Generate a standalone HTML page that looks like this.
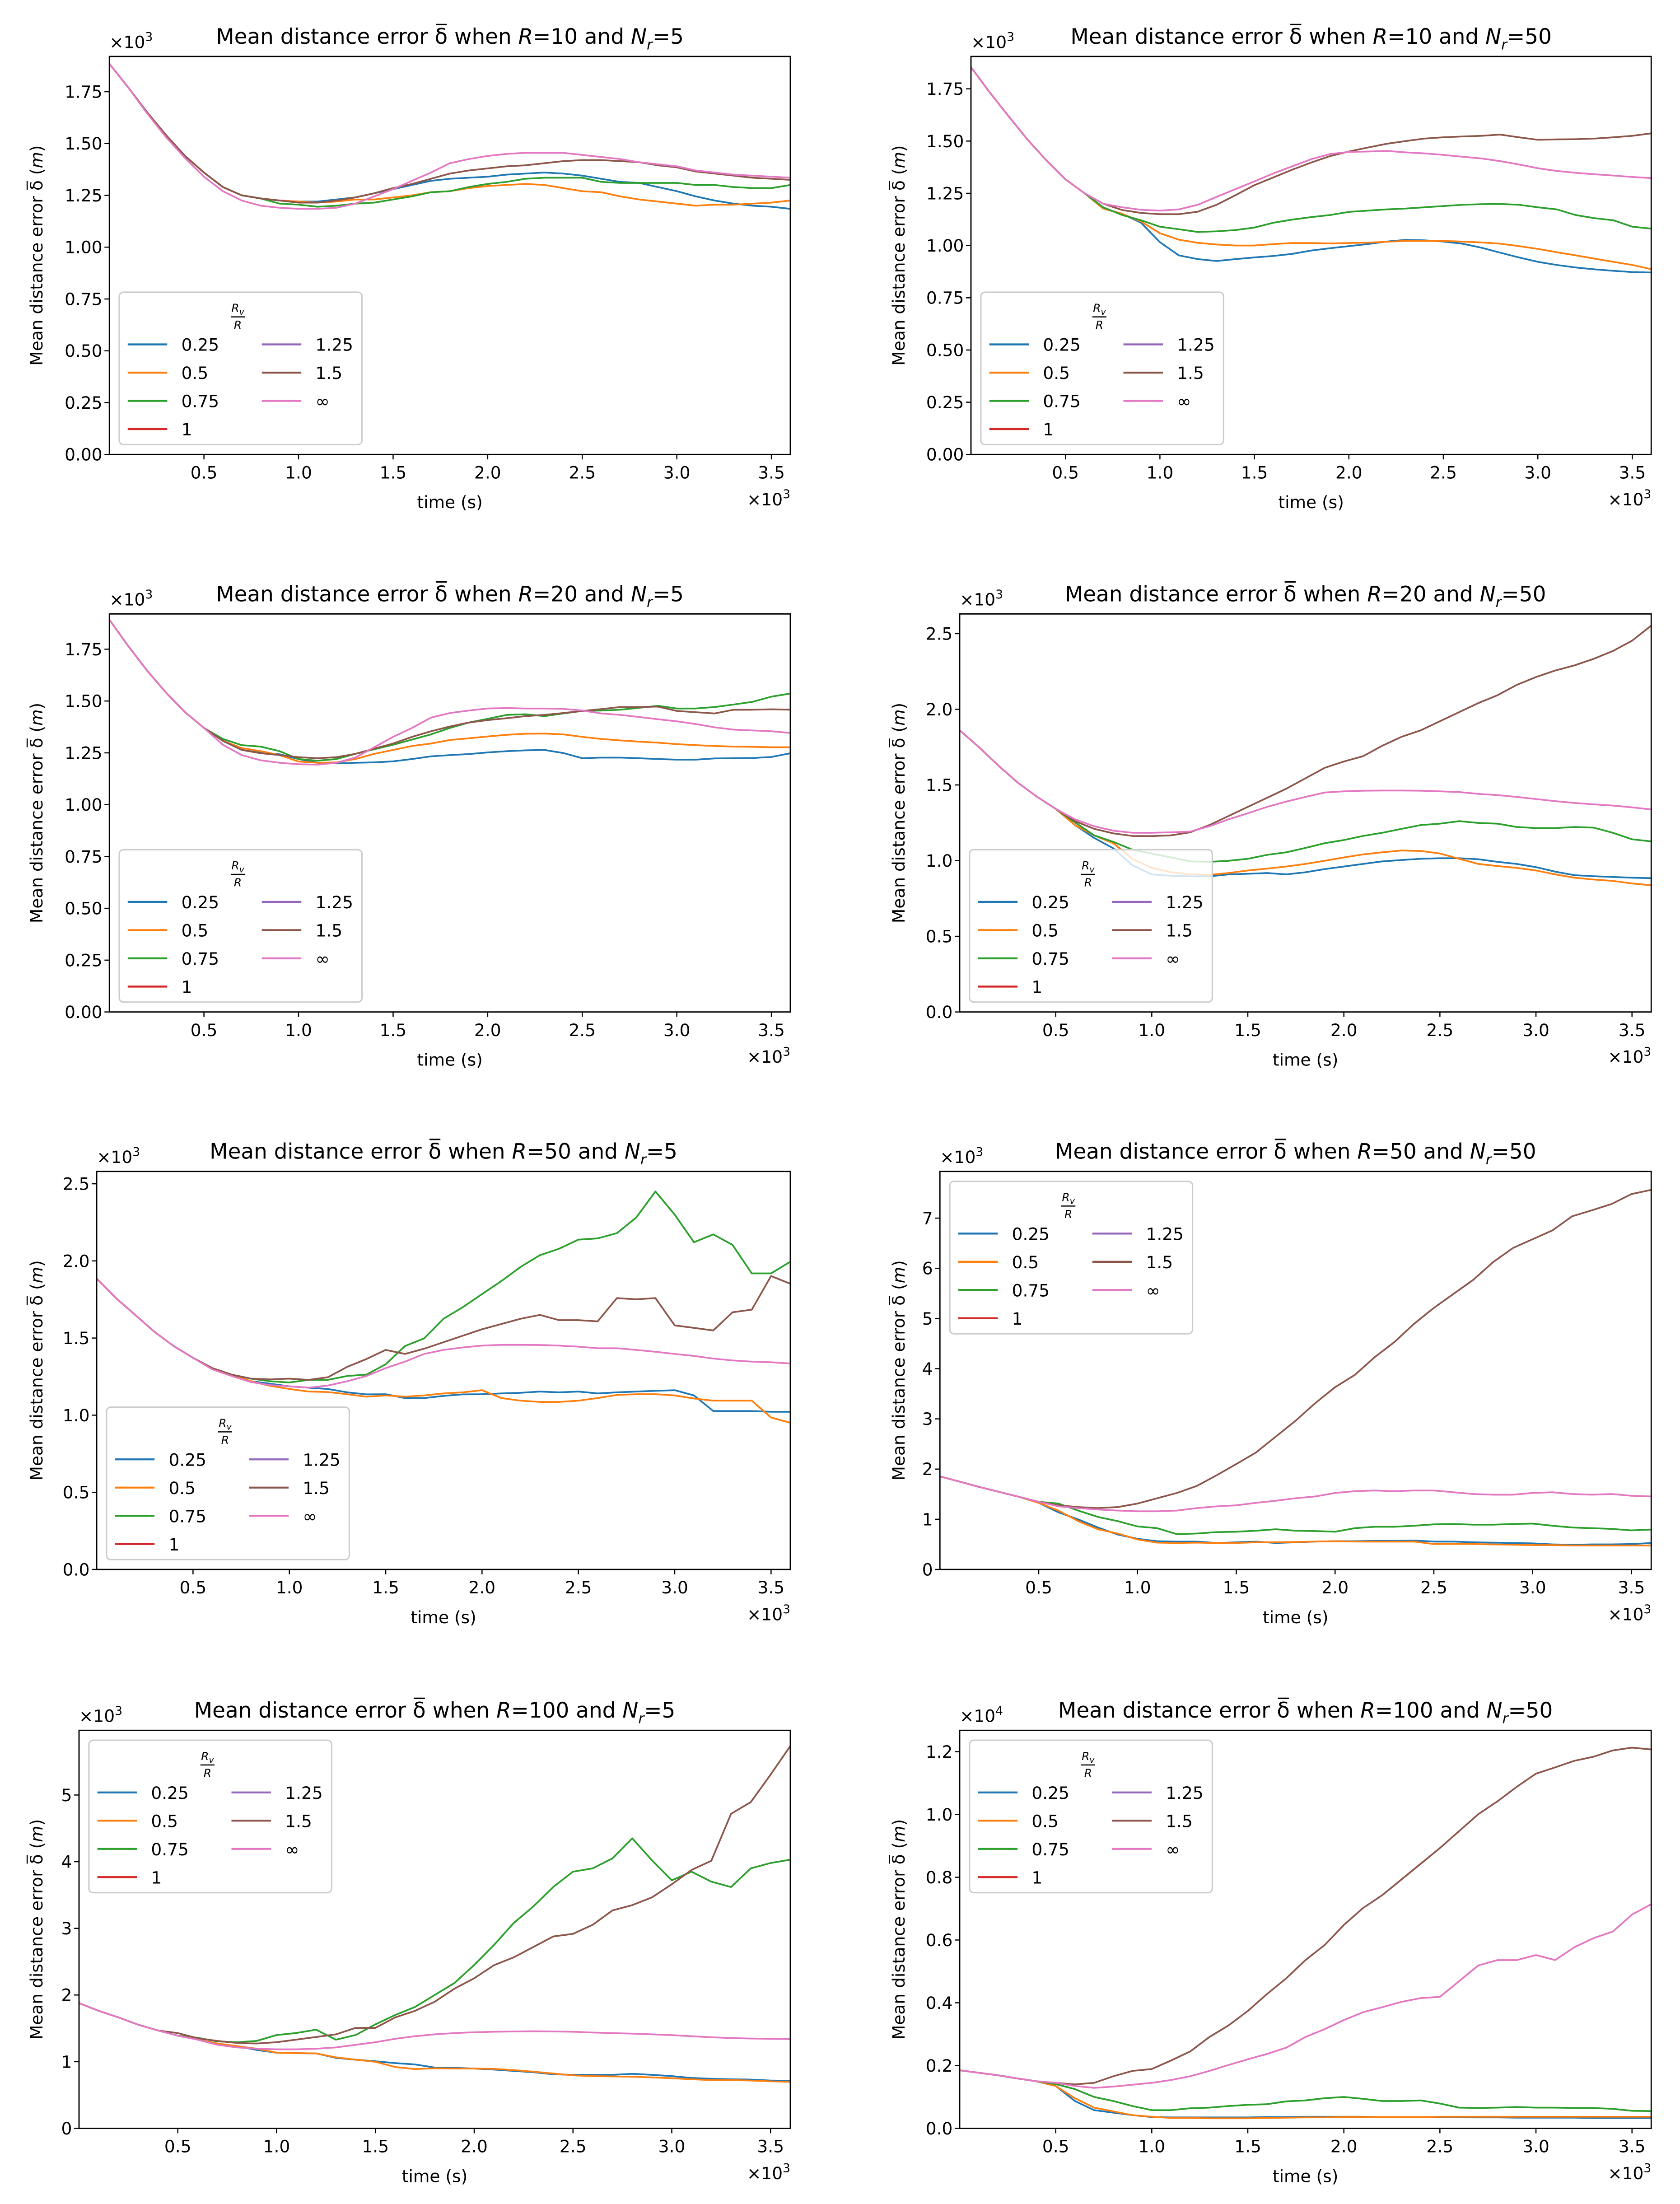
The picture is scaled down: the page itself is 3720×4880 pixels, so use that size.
<!DOCTYPE html>
<html><head><meta charset="utf-8"><title>Mean distance error plots</title>
<style>
html,body{margin:0;padding:0;background:#fff;}
svg{display:block;}
text{font-family:"DejaVu Sans","Liberation Sans",sans-serif;fill:#000;}
</style></head>
<body>
<svg id="fig" xmlns="http://www.w3.org/2000/svg" width="3720" height="4880" viewBox="0 0 1190.4 1561.6">
<rect x="0" y="0" width="1190.4" height="1561.6" fill="#fff"/>
</svg>
<script>
// shared x values (time, ×10^3 s)
const times = [0,0.1,0.2,0.3,0.4,0.5,0.6,0.7,0.8,0.9,1.0,1.1,1.2,1.3,1.4,1.5,1.6,1.7,1.8,1.9,2.0,2.1,2.2,2.3,2.4,2.5,2.6,2.7,2.8,2.9,3.0,3.1,3.2,3.3,3.4,3.5,3.6];
const xTickValues = [0.5,1.0,1.5,2.0,2.5,3.0,3.5];
const xTickLabels = ["0.5","1.0","1.5","2.0","2.5","3.0","3.5"];
const legendLabels = ["0.25","0.5","0.75","1","1.25","1.5","\u221e"];

// R=10, Nr=5
const p1_025 = [1.885,1.77,1.65,1.54,1.44,1.36,1.29,1.25,1.235,1.225,1.22,1.22,1.23,1.24,1.26,1.28,1.30,1.32,1.33,1.335,1.34,1.35,1.355,1.36,1.355,1.345,1.33,1.315,1.31,1.29,1.27,1.245,1.225,1.21,1.20,1.195,1.185];
const p1_050 = [1.885,1.77,1.65,1.54,1.44,1.36,1.29,1.25,1.235,1.225,1.22,1.215,1.22,1.23,1.23,1.24,1.25,1.265,1.27,1.285,1.295,1.30,1.305,1.30,1.285,1.27,1.265,1.245,1.23,1.22,1.21,1.20,1.205,1.205,1.21,1.215,1.225];
const p1_075 = [1.885,1.77,1.65,1.54,1.44,1.36,1.29,1.25,1.235,1.21,1.205,1.195,1.20,1.21,1.215,1.23,1.245,1.265,1.27,1.29,1.305,1.315,1.33,1.335,1.335,1.335,1.315,1.31,1.31,1.31,1.31,1.30,1.30,1.29,1.285,1.285,1.30];
const p1_150 = [1.885,1.77,1.65,1.54,1.44,1.36,1.29,1.25,1.235,1.225,1.215,1.215,1.225,1.24,1.26,1.285,1.305,1.33,1.355,1.37,1.38,1.39,1.395,1.405,1.415,1.42,1.42,1.415,1.41,1.395,1.385,1.365,1.355,1.345,1.335,1.33,1.325];
const p1_inf = [1.885,1.77,1.645,1.53,1.43,1.34,1.27,1.225,1.20,1.19,1.185,1.185,1.19,1.21,1.245,1.28,1.32,1.36,1.405,1.425,1.44,1.45,1.455,1.455,1.455,1.445,1.435,1.425,1.41,1.40,1.39,1.37,1.36,1.35,1.345,1.34,1.335];

// R=10, Nr=50
const p2_025 = [1.854,1.732,1.618,1.506,1.407,1.317,1.251,1.177,1.152,1.109,1.016,0.953,0.935,0.926,0.935,0.943,0.95,0.96,0.976,0.987,0.997,1.007,1.019,1.027,1.025,1.019,1.009,0.99,0.966,0.943,0.922,0.907,0.895,0.886,0.879,0.873,0.871];
const p2_050 = [1.854,1.732,1.618,1.506,1.407,1.317,1.251,1.177,1.152,1.115,1.059,1.028,1.013,1.005,1.0,1.0,1.007,1.012,1.012,1.01,1.012,1.014,1.018,1.022,1.022,1.022,1.019,1.015,1.009,0.997,0.984,0.968,0.953,0.937,0.922,0.907,0.887];
const p2_075 = [1.854,1.732,1.618,1.506,1.407,1.317,1.251,1.183,1.146,1.121,1.09,1.078,1.065,1.068,1.074,1.086,1.109,1.124,1.136,1.146,1.161,1.167,1.173,1.177,1.183,1.189,1.195,1.198,1.199,1.195,1.183,1.173,1.146,1.131,1.121,1.09,1.081];
const p2_150 = [1.854,1.732,1.618,1.506,1.407,1.317,1.251,1.20,1.17,1.156,1.15,1.15,1.162,1.195,1.241,1.289,1.326,1.363,1.397,1.428,1.45,1.469,1.487,1.50,1.512,1.518,1.522,1.525,1.531,1.518,1.506,1.508,1.509,1.512,1.518,1.525,1.537];
const p2_inf = [1.854,1.732,1.618,1.506,1.407,1.317,1.251,1.20,1.183,1.171,1.167,1.173,1.195,1.233,1.27,1.307,1.345,1.379,1.413,1.438,1.448,1.45,1.453,1.446,1.441,1.434,1.425,1.417,1.404,1.388,1.37,1.357,1.348,1.341,1.335,1.328,1.323];

// R=20, Nr=5
const p3_025 = [1.892,1.765,1.646,1.54,1.446,1.37,1.308,1.264,1.25,1.243,1.22,1.202,1.199,1.202,1.204,1.209,1.22,1.233,1.239,1.244,1.252,1.258,1.262,1.264,1.249,1.224,1.227,1.227,1.224,1.22,1.217,1.217,1.223,1.224,1.225,1.23,1.248];
const p3_050 = [1.892,1.765,1.646,1.54,1.446,1.37,1.308,1.273,1.258,1.239,1.208,1.202,1.204,1.22,1.245,1.264,1.283,1.295,1.312,1.32,1.329,1.337,1.342,1.343,1.339,1.327,1.317,1.31,1.304,1.299,1.292,1.287,1.283,1.28,1.279,1.277,1.277];
const p3_075 = [1.892,1.765,1.646,1.54,1.446,1.37,1.317,1.287,1.28,1.258,1.22,1.212,1.22,1.245,1.267,1.289,1.314,1.339,1.37,1.396,1.414,1.433,1.436,1.427,1.44,1.452,1.454,1.458,1.467,1.477,1.464,1.464,1.471,1.483,1.496,1.521,1.536];
const p3_150 = [1.892,1.765,1.646,1.54,1.446,1.37,1.308,1.264,1.248,1.239,1.229,1.224,1.229,1.245,1.27,1.295,1.327,1.354,1.377,1.396,1.408,1.417,1.427,1.433,1.442,1.452,1.461,1.471,1.471,1.473,1.452,1.446,1.44,1.458,1.458,1.46,1.458];
const p3_inf = [1.892,1.765,1.646,1.54,1.446,1.37,1.289,1.239,1.214,1.202,1.195,1.193,1.202,1.227,1.277,1.327,1.37,1.42,1.442,1.454,1.464,1.466,1.464,1.464,1.462,1.454,1.44,1.433,1.423,1.412,1.402,1.389,1.373,1.362,1.358,1.354,1.346];

// R=20, Nr=50
const p4_025 = [1.861,1.75,1.63,1.518,1.424,1.342,1.235,1.15,1.081,0.969,0.909,0.90,0.896,0.896,0.909,0.913,0.918,0.909,0.923,0.944,0.961,0.978,0.995,1.004,1.012,1.016,1.016,1.009,0.992,0.978,0.957,0.927,0.904,0.897,0.892,0.887,0.884];
const p4_050 = [1.861,1.75,1.63,1.518,1.424,1.342,1.235,1.167,1.115,1.012,0.952,0.923,0.909,0.906,0.918,0.935,0.947,0.961,0.978,0.999,1.021,1.041,1.055,1.067,1.064,1.047,1.012,0.978,0.964,0.952,0.935,0.909,0.887,0.875,0.866,0.849,0.837];
const p4_075 = [1.861,1.75,1.63,1.518,1.424,1.342,1.253,1.167,1.124,1.072,1.047,1.021,0.995,0.992,0.999,1.012,1.038,1.055,1.084,1.115,1.136,1.163,1.184,1.21,1.235,1.244,1.261,1.249,1.244,1.222,1.215,1.215,1.222,1.218,1.184,1.141,1.127];
const p4_150 = [1.861,1.75,1.63,1.518,1.424,1.342,1.261,1.21,1.18,1.163,1.162,1.167,1.187,1.235,1.295,1.355,1.415,1.475,1.544,1.613,1.655,1.69,1.759,1.818,1.861,1.921,1.981,2.041,2.093,2.161,2.213,2.256,2.29,2.333,2.385,2.453,2.553];
const p4_inf = [1.861,1.75,1.63,1.518,1.424,1.342,1.273,1.227,1.198,1.184,1.184,1.187,1.192,1.227,1.273,1.313,1.355,1.39,1.421,1.45,1.458,1.462,1.463,1.463,1.462,1.458,1.453,1.441,1.433,1.421,1.407,1.393,1.381,1.372,1.364,1.352,1.338];

// R=50, Nr=5
const p5_025 = [1.886,1.759,1.65,1.54,1.448,1.372,1.305,1.263,1.22,1.204,1.187,1.178,1.17,1.148,1.135,1.136,1.111,1.111,1.125,1.135,1.136,1.141,1.145,1.153,1.148,1.153,1.141,1.148,1.153,1.158,1.162,1.128,1.027,1.027,1.027,1.022,1.022];
const p5_050 = [1.886,1.759,1.65,1.54,1.448,1.372,1.305,1.263,1.22,1.19,1.17,1.153,1.15,1.136,1.12,1.128,1.12,1.128,1.141,1.148,1.162,1.111,1.094,1.086,1.086,1.094,1.111,1.131,1.136,1.136,1.128,1.108,1.094,1.094,1.094,0.985,0.951];
const p5_075 = [1.886,1.759,1.65,1.54,1.448,1.372,1.305,1.263,1.237,1.22,1.212,1.229,1.229,1.254,1.263,1.33,1.448,1.498,1.625,1.70,1.785,1.869,1.961,2.037,2.079,2.138,2.146,2.18,2.281,2.45,2.30,2.121,2.172,2.104,1.919,1.919,1.995];
const p5_150 = [1.886,1.759,1.65,1.54,1.448,1.372,1.305,1.263,1.237,1.232,1.237,1.229,1.246,1.313,1.364,1.423,1.397,1.431,1.473,1.515,1.557,1.591,1.625,1.65,1.616,1.616,1.608,1.759,1.751,1.759,1.582,1.566,1.549,1.667,1.684,1.902,1.852];
const p5_inf = [1.886,1.759,1.65,1.54,1.448,1.372,1.297,1.254,1.215,1.195,1.187,1.178,1.192,1.22,1.254,1.305,1.347,1.397,1.423,1.439,1.451,1.456,1.456,1.455,1.451,1.444,1.434,1.434,1.423,1.411,1.397,1.384,1.367,1.355,1.347,1.343,1.335];

// R=50, Nr=50
const p6_025 = [1.854,1.75,1.643,1.545,1.447,1.327,1.138,0.997,0.836,0.695,0.611,0.562,0.555,0.555,0.527,0.541,0.555,0.527,0.541,0.555,0.562,0.562,0.569,0.569,0.576,0.555,0.555,0.541,0.534,0.527,0.52,0.499,0.492,0.499,0.499,0.506,0.527];
const p6_050 = [1.854,1.75,1.643,1.545,1.447,1.327,1.173,0.962,0.801,0.716,0.597,0.534,0.527,0.534,0.527,0.527,0.541,0.541,0.548,0.555,0.562,0.555,0.555,0.555,0.555,0.506,0.506,0.506,0.499,0.492,0.485,0.485,0.478,0.478,0.478,0.478,0.478];
const p6_075 = [1.854,1.75,1.643,1.545,1.447,1.348,1.313,1.173,1.046,0.962,0.857,0.822,0.702,0.716,0.744,0.751,0.772,0.801,0.772,0.765,0.751,0.822,0.85,0.85,0.871,0.899,0.906,0.892,0.892,0.906,0.913,0.871,0.836,0.822,0.808,0.779,0.794];
const p6_150 = [1.854,1.75,1.643,1.545,1.447,1.348,1.278,1.243,1.222,1.243,1.313,1.419,1.524,1.664,1.875,2.10,2.331,2.647,2.963,3.315,3.631,3.876,4.228,4.53,4.895,5.211,5.492,5.772,6.124,6.404,6.58,6.756,7.037,7.156,7.282,7.479,7.563];
const p6_inf = [1.854,1.75,1.643,1.545,1.447,1.348,1.257,1.222,1.194,1.173,1.159,1.159,1.173,1.222,1.257,1.278,1.327,1.369,1.419,1.454,1.524,1.559,1.573,1.559,1.573,1.573,1.538,1.503,1.489,1.489,1.524,1.538,1.503,1.489,1.503,1.468,1.454];

// R=100, Nr=5
const p7_025 = [1.879,1.762,1.664,1.554,1.468,1.39,1.331,1.273,1.233,1.175,1.135,1.128,1.124,1.057,1.03,1.006,0.979,0.959,0.912,0.908,0.897,0.881,0.861,0.842,0.81,0.803,0.803,0.803,0.818,0.803,0.783,0.756,0.744,0.736,0.732,0.717,0.713];
const p7_050 = [1.879,1.762,1.664,1.554,1.468,1.39,1.331,1.273,1.233,1.194,1.135,1.128,1.124,1.065,1.03,0.998,0.92,0.889,0.901,0.897,0.897,0.893,0.873,0.85,0.822,0.795,0.783,0.779,0.775,0.764,0.752,0.736,0.724,0.724,0.717,0.705,0.697];
const p7_075 = [1.879,1.762,1.664,1.554,1.468,1.39,1.359,1.304,1.292,1.312,1.40,1.43,1.48,1.33,1.40,1.56,1.70,1.82,2.0,2.18,2.45,2.75,3.08,3.33,3.62,3.85,3.90,4.05,4.35,4.02,3.72,3.85,3.70,3.62,3.90,3.98,4.03];
const p7_150 = [1.879,1.762,1.664,1.554,1.468,1.429,1.351,1.312,1.28,1.273,1.292,1.331,1.37,1.41,1.507,1.507,1.664,1.762,1.899,2.095,2.251,2.447,2.565,2.721,2.878,2.917,3.054,3.269,3.348,3.465,3.661,3.876,4.013,4.718,4.894,5.305,5.736];
const p7_inf = [1.879,1.762,1.664,1.554,1.468,1.39,1.331,1.253,1.214,1.194,1.186,1.186,1.194,1.214,1.253,1.292,1.343,1.382,1.41,1.429,1.441,1.449,1.453,1.457,1.453,1.449,1.437,1.429,1.421,1.41,1.398,1.382,1.366,1.355,1.347,1.343,1.339];

// R=100, Nr=50 (×10^4)
const p8_025 = [0.185,0.177,0.169,0.159,0.15,0.135,0.087,0.058,0.05,0.042,0.036,0.035,0.035,0.035,0.035,0.035,0.036,0.036,0.037,0.037,0.037,0.037,0.036,0.036,0.036,0.036,0.035,0.035,0.035,0.034,0.034,0.034,0.034,0.033,0.033,0.033,0.033];
const p8_050 = [0.185,0.177,0.169,0.159,0.15,0.135,0.096,0.066,0.054,0.042,0.037,0.033,0.033,0.032,0.032,0.032,0.033,0.034,0.035,0.035,0.036,0.036,0.036,0.036,0.036,0.037,0.037,0.037,0.037,0.037,0.037,0.037,0.037,0.037,0.037,0.037,0.037];
const p8_075 = [0.185,0.177,0.169,0.159,0.15,0.141,0.125,0.10,0.087,0.071,0.058,0.058,0.064,0.066,0.071,0.075,0.077,0.086,0.089,0.096,0.10,0.094,0.087,0.087,0.089,0.079,0.066,0.065,0.066,0.068,0.066,0.066,0.065,0.065,0.062,0.056,0.055];
const p8_150 = [0.185,0.177,0.169,0.159,0.15,0.145,0.14,0.145,0.166,0.183,0.189,0.216,0.245,0.291,0.328,0.374,0.428,0.478,0.536,0.584,0.648,0.702,0.743,0.793,0.843,0.893,0.947,1.001,1.042,1.088,1.13,1.15,1.171,1.184,1.204,1.213,1.207];
const p8_inf = [0.185,0.177,0.169,0.159,0.15,0.145,0.135,0.129,0.133,0.139,0.145,0.154,0.166,0.183,0.202,0.22,0.237,0.257,0.291,0.316,0.345,0.37,0.386,0.403,0.415,0.419,0.469,0.519,0.536,0.536,0.552,0.536,0.577,0.606,0.627,0.681,0.714];

// y tick values per panel
const yTicks1 = [0,0.25,0.5,0.75,1.0,1.25,1.5,1.75];
const yTicks2 = [0,0.5,1.0,1.5,2.0,2.5];
const yTicks6 = [0,1,2,3,4,5,6,7];
const yTicks7 = [0,1,2,3,4,5];
const yTicks8 = [0,0.2,0.4,0.6,0.8,1.0,1.2];

const COLORS = ["#1f77b4","#ff7f0e","#2ca02c","#d62728","#9467bd","#8c564b","#e377c2"];
const NS = "http://www.w3.org/2000/svg";
const svg = document.getElementById("fig");

function mk(tag, attrs, parent){
  const e = document.createElementNS(NS, tag);
  for (const k in attrs) e.setAttribute(k, attrs[k]);
  (parent || svg).appendChild(e);
  return e;
}

const panels = [
  {id:"r10-n5",  R:"10",  N:"5",  L:77.5, T:40,   Rr:560,  B:322,  ymax:1.92,  ticks:yTicks1, dec:2, exp:"3", leg:"ll", ylx:30,  series:[p1_025,p1_050,p1_075,p1_150,p1_inf]},
  {id:"r10-n50", R:"10",  N:"50", L:688,  T:40,   Rr:1170, B:322,  ymax:1.905, ticks:yTicks1, dec:2, exp:"3", leg:"ll", ylx:641, series:[p2_025,p2_050,p2_075,p2_150,p2_inf]},
  {id:"r20-n5",  R:"20",  N:"5",  L:77.5, T:435,  Rr:560,  B:717,  ymax:1.92,  ticks:yTicks1, dec:2, exp:"3", leg:"ll", ylx:30,  series:[p3_025,p3_050,p3_075,p3_150,p3_inf]},
  {id:"r20-n50", R:"20",  N:"50", L:680,  T:435,  Rr:1170, B:717,  ymax:2.63,  ticks:yTicks2, dec:1, exp:"3", leg:"ll", ylx:641, series:[p4_025,p4_050,p4_075,p4_150,p4_inf]},
  {id:"r50-n5",  R:"50",  N:"5",  L:68.5, T:830,  Rr:560,  B:1112, ymax:2.58,  ticks:yTicks2, dec:1, exp:"3", leg:"ll", ylx:30,  series:[p5_025,p5_050,p5_075,p5_150,p5_inf]},
  {id:"r50-n50", R:"50",  N:"50", L:666,  T:830,  Rr:1170, B:1112, ymax:7.93,  ticks:yTicks6, dec:0, exp:"3", leg:"ul", ylx:641, series:[p6_025,p6_050,p6_075,p6_150,p6_inf]},
  {id:"r100-n5", R:"100", N:"5",  L:56,   T:1226, Rr:560,  B:1508, ymax:5.97,  ticks:yTicks7, dec:0, exp:"3", leg:"ul", ylx:30,  series:[p7_025,p7_050,p7_075,p7_150,p7_inf]},
  {id:"r100-n50",R:"100", N:"50", L:680,  T:1226, Rr:1170, B:1508, ymax:1.268, ticks:yTicks8, dec:1, exp:"4", leg:"ul", ylx:641, series:[p8_025,p8_050,p8_075,p8_150,p8_inf]}
];
const seriesColorIdx = [0,1,2,5,6];
const seriesNames = ["0-25","0-5","0-75","1-5","inf"];

panels.forEach((p, pi) => {
  const g = mk("g", {});
  
  
  const xs = t => p.L + t / 3.6 * (p.Rr - p.L);
  const ys = v => p.B - v / p.ymax * (p.B - p.T);

  // clip
  const cp = mk("clipPath", {id:"clip" + pi}, g);
  mk("rect", {x:p.L, y:p.T, width:p.Rr - p.L, height:p.B - p.T}, cp);

  // series lines
  p.series.forEach((arr, si) => {
    let d = "";
    arr.forEach((v, i) => { d += (i ? "L" : "M") + xs(times[i]).toFixed(2) + " " + ys(v).toFixed(2); });
    const path = mk("path", {d:d, fill:"none", stroke:COLORS[seriesColorIdx[si]], "stroke-width":1.2, "stroke-linejoin":"round", "clip-path":"url(#clip" + pi + ")"}, g);
    
    
  });

  // frame
  const fr = mk("rect", {x:p.L, y:p.T, width:p.Rr - p.L, height:p.B - p.T, fill:"none", stroke:"#000", "stroke-width":0.9}, g);
  
  

  // x ticks
  xTickValues.forEach((t, i) => {
    const x = xs(t);
    mk("line", {x1:x, y1:p.B, x2:x, y2:p.B + 3.5, stroke:"#000", "stroke-width":0.8}, g);
    const tx = mk("text", {x:x, y:p.B + 17, "text-anchor":"middle", "font-size":12}, g);
    tx.textContent = xTickLabels[i];
    
    
  });
  // y ticks
  p.ticks.forEach(v => {
    const y = ys(v);
    mk("line", {x1:p.L - 3.5, y1:y, x2:p.L, y2:y, stroke:"#000", "stroke-width":0.8}, g);
    const ty = mk("text", {x:p.L - 5, y:y + 4.3, "text-anchor":"end", "font-size":12}, g);
    ty.textContent = v.toFixed(p.dec);
    
    
  });

  // multipliers
  const m1 = mk("text", {x:p.L, y:p.T - 6, "font-size":12}, g);
  m1.innerHTML = '\u00d710<tspan dy="-5" font-size="8.5">' + p.exp + '</tspan>';
  
  
  const m2 = mk("text", {x:p.Rr, y:p.B + 36, "text-anchor":"end", "font-size":12}, g);
  m2.innerHTML = '\u00d710<tspan dy="-5" font-size="8.5">3</tspan>';
  
  

  // x label
  const xl = mk("text", {x:(p.L + p.Rr) / 2, y:p.B + 38, "text-anchor":"middle", "font-size":12}, g);
  xl.textContent = "time (s)";
  
  

  // y label
  const ym = (p.T + p.B) / 2;
  const yl = mk("text", {x:p.ylx, y:ym, "text-anchor":"middle", "font-size":12, transform:"rotate(-90 " + p.ylx + " " + ym + ")"}, g);
  yl.innerHTML = 'Mean distance error \u03b4\u0305 (<tspan font-style="italic">m</tspan>)';
  
  

  // title
  const ti = mk("text", {x:(p.L + p.Rr) / 2, y:p.T - 9, "text-anchor":"middle", "font-size":15}, g);
  ti.innerHTML = 'Mean distance error \u03b4\u0305 when <tspan font-style="italic">R</tspan>=' + p.R +
    ' and <tspan font-style="italic">N</tspan><tspan font-size="10" font-style="italic" dy="4">r</tspan><tspan dy="-4">=' + p.N + '</tspan>';
  
  

  // legend
  const lw = 172, lh = 108;
  const lx = p.L + 7;
  const ly = p.leg === "ul" ? p.T + 7 : p.B - 7 - lh;
  const lg = mk("g", {}, g);
  
  
  mk("rect", {x:lx, y:ly, width:lw, height:lh, rx:3, fill:"#fff", "fill-opacity":0.8, stroke:"#cccccc", "stroke-width":1}, lg);
  const cx = lx + 84;
  const t1 = mk("text", {x:cx, y:ly + 14, "text-anchor":"middle", "font-size":8, "font-style":"italic"}, lg);
  t1.innerHTML = 'R<tspan font-size="6" dy="2">v</tspan>';
  
  
  mk("line", {x1:cx - 5, y1:ly + 17.5, x2:cx + 5, y2:ly + 17.5, stroke:"#000", "stroke-width":0.8}, lg);
  const t2 = mk("text", {x:cx, y:ly + 26, "text-anchor":"middle", "font-size":8, "font-style":"italic"}, lg);
  t2.textContent = "R";
  
  
  legendLabels.forEach((lab, i) => {
    const col = i < 4 ? 0 : 1;
    const row = i < 4 ? i : i - 4;
    const ex = lx + 6 + col * 95;
    const ey = ly + 37 + row * 20;
    const en = mk("g", {}, lg);
    
    
    mk("line", {x1:ex, y1:ey, x2:ex + 28, y2:ey, stroke:COLORS[i], "stroke-width":1.4}, en);
    const et = mk("text", {x:ex + 38, y:ey + 4.5, "font-size":12}, en);
    et.textContent = lab;
  });
});
</script>
</body></html>
